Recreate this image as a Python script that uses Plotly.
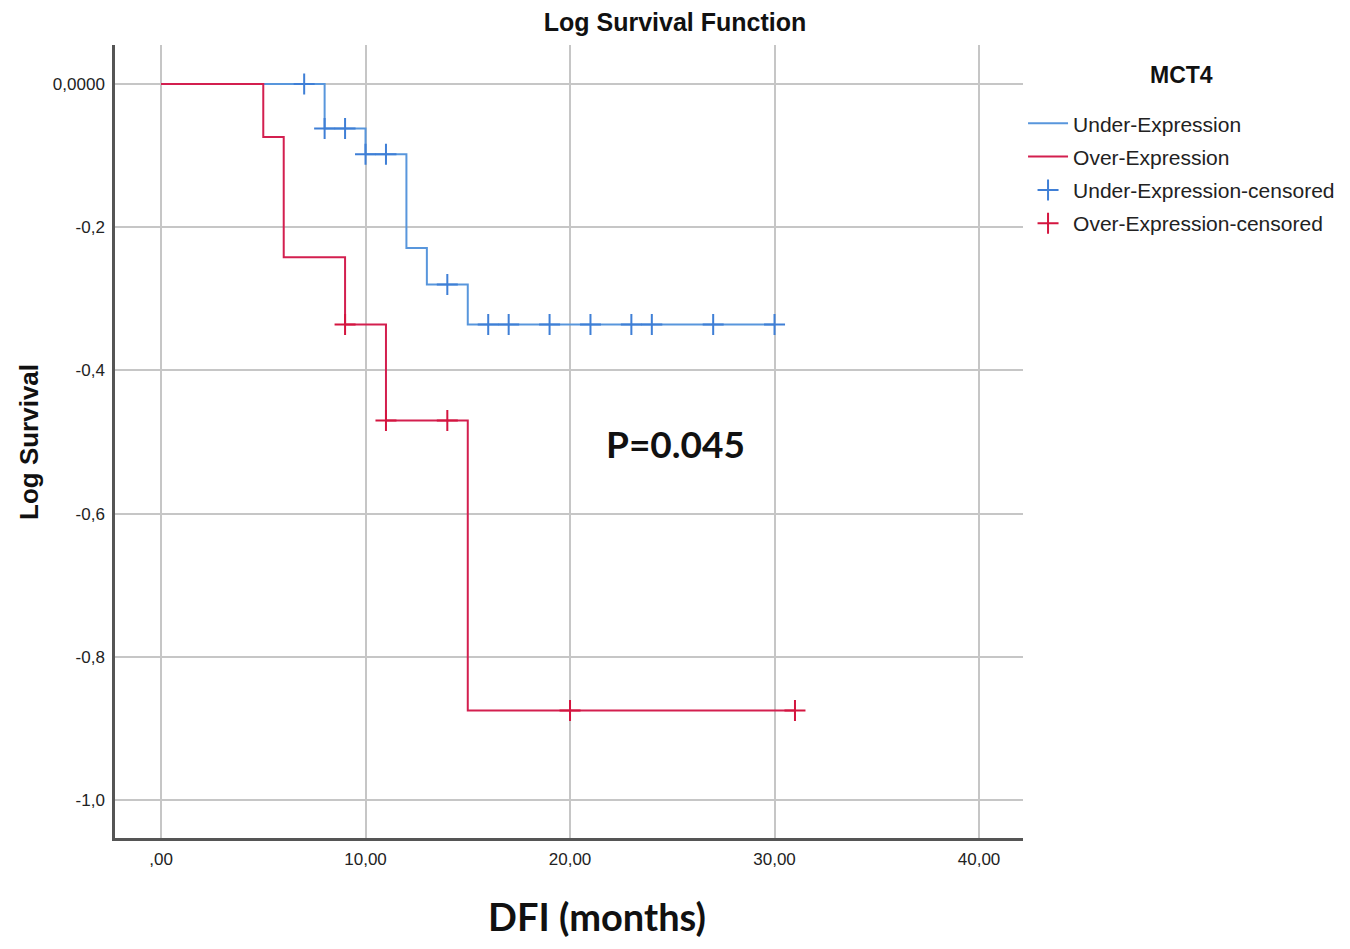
import plotly.graph_objects as go

# ---------------- data ----------------
under_times = [0, 8, 10, 12, 13, 15, 30]
under_logsurv = [0.0, -0.062, -0.098, -0.229, -0.280, -0.336, -0.336]
under_cens_times = [7, 8, 9, 10, 11, 14, 16, 17, 19, 21, 23, 24, 27, 30]
under_cens_logsurv = [0.0, -0.062, -0.062, -0.098, -0.098, -0.280,
                      -0.336, -0.336, -0.336, -0.336, -0.336, -0.336, -0.336, -0.336]

over_times = [0, 5, 6, 9, 11, 15, 31]
over_logsurv = [0.0, -0.074, -0.242, -0.336, -0.470, -0.875, -0.875]
over_cens_times = [9, 11, 14, 20, 31]
over_cens_logsurv = [-0.336, -0.470, -0.470, -0.875, -0.875]

x_tickvals = [0, 10, 20, 30, 40]
x_ticktext = [",00", "10,00", "20,00", "30,00", "40,00"]
y_tickvals = [0, -0.2, -0.4, -0.6, -0.8, -1.0]
y_ticktext = ["0,0000", "-0,2", "-0,4", "-0,6", "-0,8", "-1,0"]

p_text = "P=0.045"
p_pos = (25.15, -0.502)

BLUE = "#5896dc"
BLUE_C = "#3f7fd6"
RED = "#d31f4f"
RED_C = "#d4153f"

TICKFONT = "Liberation Sans, Arial"
fig = go.Figure()

fig.add_trace(go.Scatter(
    x=under_times, y=under_logsurv, mode="lines", line_shape="hv",
    line=dict(color=BLUE, width=2), name="Under-Expression", legendgroup="a"))
fig.add_trace(go.Scatter(
    x=over_times, y=over_logsurv, mode="lines", line_shape="hv",
    line=dict(color=RED, width=2), name="Over-Expression", legendgroup="b"))
fig.add_trace(go.Scatter(
    x=under_cens_times, y=under_cens_logsurv, mode="markers",
    marker=dict(symbol="cross-thin", size=15, line=dict(color=BLUE_C, width=2)),
    name="Under-Expression-censored", legendgroup="c"))
fig.add_trace(go.Scatter(
    x=over_cens_times, y=over_cens_logsurv, mode="markers",
    marker=dict(symbol="cross-thin", size=15, line=dict(color=RED_C, width=2)),
    name="Over-Expression-censored", legendgroup="d"))

fig.add_annotation(
    x=p_pos[0], y=p_pos[1], xref="x", yref="y", text="<b>" + p_text + "</b>",
    showarrow=False, font=dict(family="Lato, Open Sans", size=37, color="#111111"))

# axis titles and legend title as text
fig.add_annotation(x=-0.0947, y=0.4994, xref="paper", yref="paper", textangle=-90,
                   text="<b>Log Survival</b>", showarrow=False,
                   xanchor="center", yanchor="middle",
                   font=dict(family="Liberation Sans, Arial", size=26, color="#111111"))
fig.add_annotation(x=0.531, y=-0.0984, xref="paper", yref="paper",
                   text="<b>DFI (months)</b>", showarrow=False,
                   xanchor="center", yanchor="middle",
                   font=dict(family="Lato, Open Sans", size=38, color="#111111"))
fig.add_annotation(x=1.175, y=0.962, xref="paper", yref="paper",
                   text="<b>MCT4</b>", showarrow=False,
                   xanchor="center", yanchor="middle",
                   font=dict(family="Liberation Sans, Arial", size=23, color="#111111"))

fig.update_layout(
    width=1334, height=933,
    margin=dict(l=107, r=319, t=37, b=103, autoexpand=False),
    paper_bgcolor="white", plot_bgcolor="white",
    title=dict(text="<b>Log Survival Function</b>", x=0.5, xanchor="center",
               y=0.985, yanchor="middle",
               font=dict(family="Liberation Sans, Arial", size=25, color="#111111")),
    xaxis=dict(range=[-2.25, 42.15], tickvals=x_tickvals, ticktext=x_ticktext,
               showgrid=True, gridcolor="#c6c6c6", gridwidth=1.5,
               zeroline=False, showline=True, linecolor="#555555", linewidth=2.5,
               ticks="", ticklabelstandoff=4, automargin=False,
               tickfont=dict(family=TICKFONT, size=17, color="#222222")),
    yaxis=dict(range=[-1.0531, 0.0545], tickvals=y_tickvals, ticktext=y_ticktext,
               showgrid=True, gridcolor="#c6c6c6", gridwidth=1.5,
               zeroline=False, showline=True, linecolor="#555555", linewidth=2.5,
               ticks="", ticklabelstandoff=4, automargin=False,
               tickfont=dict(family=TICKFONT, size=17, color="#222222")),
    legend=dict(x=0.7609, y=0.898, xref="container", yref="container",
                xanchor="left", yanchor="top",
                itemwidth=40, tracegroupgap=3,
                font=dict(family="Liberation Sans, Arial", size=21, color="#222222"),
                bgcolor="rgba(0,0,0,0)"),
    showlegend=True,
)

fig.write_html("out.html")
